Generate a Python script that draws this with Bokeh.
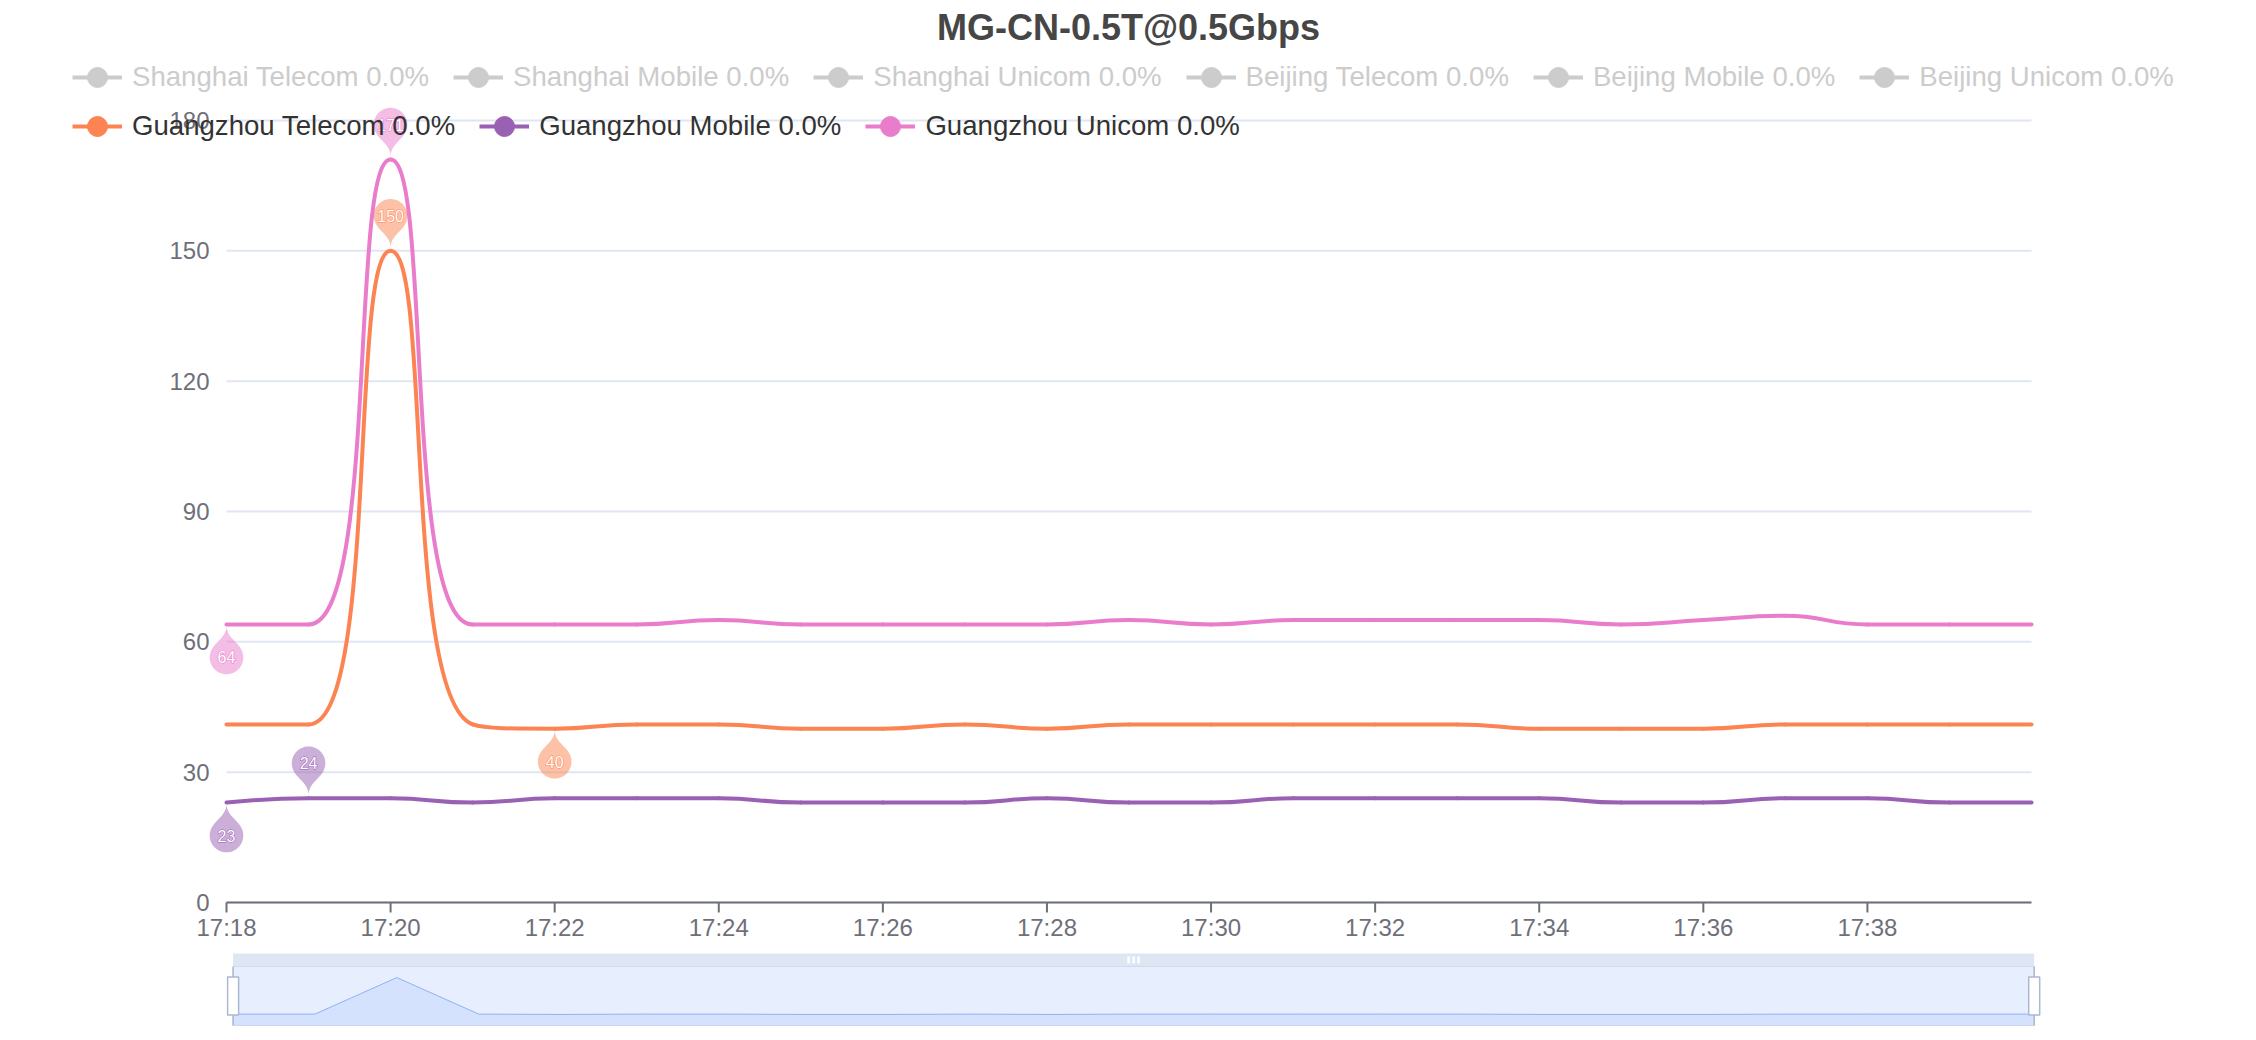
import math
import numpy as np
from bokeh.plotting import figure
from bokeh.layouts import column
from bokeh.models import Range1d, Legend, LegendItem, Label
from bokeh.core.properties import value
from bokeh.embed import file_html
from bokeh.resources import INLINE

# ---------------- data ----------------
chart_title = "MG-CN-0.5T@0.5Gbps"
times = ["17:18", "17:19", "17:20", "17:21", "17:22", "17:23", "17:24", "17:25",
         "17:26", "17:27", "17:28", "17:29", "17:30", "17:31", "17:32", "17:33",
         "17:34", "17:35", "17:36", "17:37", "17:38", "17:39", "17:40"]
gz_telecom = [41, 41, 150, 41, 40, 41, 41, 40, 40, 41, 40, 41, 41, 41, 41, 41, 40, 40, 40, 41, 41, 41, 41]
gz_mobile = [23, 24, 24, 23, 24, 24, 24, 23, 23, 23, 24, 23, 23, 24, 24, 24, 24, 23, 23, 24, 24, 23, 23]
gz_unicom = [64, 64, 171, 64, 64, 64, 65, 64, 64, 64, 64, 65, 64, 65, 65, 65, 65, 64, 65, 66, 64, 64, 64]

hidden_series = ["Shanghai Telecom", "Shanghai Mobile", "Shanghai Unicom",
                 "Beijing Telecom", "Beijing Mobile", "Beijing Unicom"]
visible_series = ["Guangzhou Telecom", "Guangzhou Mobile", "Guangzhou Unicom"]
loss_hidden = ["0.0%", "0.0%", "0.0%", "0.0%", "0.0%", "0.0%"]
loss_visible = ["0.0%", "0.0%", "0.0%"]
visible_values = [gz_telecom, gz_mobile, gz_unicom]
visible_colors = ["#fc8452", "#9a60b4", "#ea7ccc"]

y_ticks = [0, 30, 60, 90, 120, 150, 180]
x_tick_labels = ["17:18", "17:20", "17:22", "17:24", "17:26", "17:28",
                 "17:30", "17:32", "17:34", "17:36", "17:38"]

FONT = "Liberation Sans"
AXIS_C = "#6E7079"


def to_min(t):
    h, m = t.split(":")
    return int(h) * 60 + int(m)


xs = [to_min(t) for t in times]
x0, x1 = xs[0], xs[-1]
x_ticks = [to_min(t) for t in x_tick_labels]

# ---------------- layout (page pixels) ----------------
ORIGIN = 0                 # canvas top-left on the captured page
W = 2248
MAIN_H = 948
GL, GT, GB, GW = 226, 120, 902, 1805      # grid left / top / bottom / width on the page
ppx = GW / (x1 - x0)
ppy = (GB - GT) / (y_ticks[-1] - y_ticks[0])
CANVAS_BOTTOM = ORIGIN + MAIN_H

p = figure(width=W, height=MAIN_H, title=None,
           x_range=Range1d(x0 - (GL - ORIGIN) / ppx, x0 + (ORIGIN + W - GL) / ppx),
           y_range=Range1d(-(CANVAS_BOTTOM - GB) / ppy, (GB - ORIGIN) / ppy),
           x_axis_location=None, y_axis_location=None,
           output_backend="svg", toolbar_location=None,
           min_border_left=0, min_border_right=0,
           min_border_top=0, min_border_bottom=0)
p.outline_line_color = None
p.background_fill_color = "white"
p.border_fill_color = "white"
p.grid.visible = False

# grid lines, axis line, ticks, tick labels
p.segment(x0=[x0] * len(y_ticks), y0=y_ticks, x1=[x1] * len(y_ticks), y1=y_ticks,
          line_color="#E0E6F1", line_width=2)
p.segment(x0=[x0], y0=[y_ticks[0]], x1=[x1], y1=[y_ticks[0]],
          line_color=AXIS_C, line_width=2)
p.segment(x0=x_ticks, y0=[y_ticks[0]] * len(x_ticks), x1=x_ticks,
          y1=[y_ticks[0] - 10 / ppy] * len(x_ticks), line_color=AXIS_C, line_width=2)
p.text(x=x_ticks, y=[y_ticks[0]] * len(x_ticks), text=x_tick_labels,
       y_offset=25, text_align="center", text_baseline="middle",
       text_font=value(FONT), text_font_size="24px", text_color=AXIS_C)
p.text(x=[x0] * len(y_ticks), y=y_ticks, text=[str(t) for t in y_ticks],
       x_offset=-17, text_align="right", text_baseline="middle",
       text_font=value(FONT), text_font_size="24px", text_color=AXIS_C)


# ---------------- smooth lines (ECharts-like bezier control points) ----------------
def smooth_segments(xv, yv, smooth=0.5):
    P = [(x * ppx, y * ppy) for x, y in zip(xv, yv)]
    n = len(P)
    out = {k: [] for k in ("x0", "y0", "x1", "y1", "cx0", "cy0", "cx1", "cy1")}
    cp0 = P[0]
    for i in range(1, n):
        x, y = P[i]
        px_, py_ = P[i - 1]
        if i == n - 1:
            cp1 = (x, y)
            ncp0 = (x, y)
        else:
            nx, ny = P[i + 1]
            vx, vy = nx - px_, ny - py_
            l0 = math.hypot(x - px_, y - py_)
            l1 = math.hypot(nx - x, ny - y)
            r = l1 / (l0 + l1)
            ncx = x + vx * smooth * r
            ncy = y + vy * smooth * r
            ncx = max(min(ncx, max(nx, x)), min(nx, x))
            ncy = max(min(ncy, max(ny, y)), min(ny, y))
            vx, vy = ncx - x, ncy - y
            c1x = x - vx * l0 / l1
            c1y = y - vy * l0 / l1
            c1x = max(min(c1x, max(px_, x)), min(px_, x))
            c1y = max(min(c1y, max(py_, y)), min(py_, y))
            vx, vy = x - c1x, y - c1y
            ncp0 = (x + vx * l1 / l0, y + vy * l1 / l0)
            cp1 = (c1x, c1y)
        out["x0"].append(px_ / ppx); out["y0"].append(py_ / ppy)
        out["x1"].append(x / ppx); out["y1"].append(y / ppy)
        out["cx0"].append(cp0[0] / ppx); out["cy0"].append(cp0[1] / ppy)
        out["cx1"].append(cp1[0] / ppx); out["cy1"].append(cp1[1] / ppy)
        cp0 = ncp0
    return out


for vals, col in zip(visible_values, visible_colors):
    seg = smooth_segments(xs, vals)
    p.bezier(line_color=col, line_width=4, line_cap="round", **seg)


# ---------------- mark pins (max / min) ----------------
def pin_outline(s=56):
    w = s * 3 / 5
    h = max(w, s)
    r = w / 2
    dyc = r * r / (h - r)
    cy = -h + r + dyc
    a = math.asin(dyc / r)
    dx = math.cos(a) * r
    tx, ty = math.sin(a), math.cos(a)
    c1, c2 = r * 0.6, r * 0.7
    pts = [(r * math.cos(t), cy + r * math.sin(t))
           for t in np.linspace(math.pi - a, 2 * math.pi + a, 48)]

    def bez(q0, q1, q2, q3, m=16):
        res = []
        for t in np.linspace(0, 1, m):
            u = 1 - t
            res.append((u**3 * q0[0] + 3 * u * u * t * q1[0] + 3 * u * t * t * q2[0] + t**3 * q3[0],
                        u**3 * q0[1] + 3 * u * u * t * q1[1] + 3 * u * t * t * q2[1] + t**3 * q3[1]))
        return res

    pts += bez((dx, cy + dyc), (dx - tx * c1, cy + dyc + ty * c1), (0, -c2), (0, 0))[1:]
    pts += bez((0, 0), (0, -c2), (-dx + tx * c1, cy + dyc + ty * c1), (-dx, cy + dyc))[1:-1]
    return pts, -cy


PIN, PIN_CENTER = pin_outline(56)
GAP_MAX, GAP_MIN = 3, 1

for vals, col in zip(visible_values, visible_colors):
    arr = np.array(vals)
    pxs, pys, lx, ly, lt = [], [], [], [], []
    for idx, up in ((int(arr.argmax()), True), (int(arr.argmin()), False)):
        xv, yv = xs[idx], vals[idx]
        sgn = 1 if up else -1
        gap = GAP_MAX if up else GAP_MIN
        pxs.append([xv + qx / ppx for qx, qy in PIN])
        pys.append([yv + sgn * (gap - qy) / ppy for qx, qy in PIN])
        lx.append(xv)
        ly.append(yv + sgn * (gap + PIN_CENTER) / ppy)
        lt.append(str(yv))
    p.patches(xs=pxs, ys=pys, fill_color=col, fill_alpha=0.5, line_color=None)
    p.text(x=lx, y=ly, text=lt, text_color=col, text_outline_color=col,
           text_font=value(FONT), text_font_size="16px",
           text_align="center", text_baseline="middle")
    p.text(x=lx, y=ly, text=lt, text_color="white",
           text_font=value(FONT), text_font_size="16px",
           text_align="center", text_baseline="middle")


# ---------------- legends ----------------
def make_items(names, losses, colors, series_vals):
    items = []
    for name, loss, col, v in zip(names, losses, colors, series_vals):
        rl = p.line([x0], [v], line_color=col, line_width=4, visible=False)
        rd = p.scatter([x0], [v], marker="circle", size=21, fill_color=col,
                       line_color=col, visible=False)
        items.append(LegendItem(label=f"{name} {loss}", renderers=[rl, rd]))
    return items


leg_common = dict(orientation="horizontal", glyph_width=50, glyph_height=52,
                  label_standoff=10, spacing=24, padding=0, margin=0,
                  background_fill_alpha=0, border_line_alpha=0,
                  inactive_fill_alpha=0, click_policy="none",
                  label_text_font=FONT, label_text_font_size="27.6px")

leg1 = Legend(items=make_items(hidden_series, loss_hidden, ["#cccccc"] * 6, [0] * 6),
              location=(72 - ORIGIN, CANVAS_BOTTOM - 103),
              label_text_color="#cccccc", **leg_common)
leg2 = Legend(items=make_items(visible_series, loss_visible, visible_colors,
                               [v[0] for v in visible_values]),
              location=(72 - ORIGIN, CANVAS_BOTTOM - 152),
              label_text_color="#333333", **leg_common)
p.add_layout(leg1, "center")
p.add_layout(leg2, "center")

p.add_layout(Label(x=1128 - ORIGIN, y=CANVAS_BOTTOM - 27,
                   x_units="screen", y_units="screen", text=chart_title,
                   text_font=FONT, text_font_size="36px", text_font_style="bold",
                   text_color="#464646", text_align="center", text_baseline="middle"))

# ---------------- data-zoom slider ----------------
SH, SFT, SFH = 88, 4, 74
s_left_px, s_right_px = 232.6, 2033.7
ppm_s = (s_right_px - s_left_px) / (x1 - x0)
sx_start = x0 - (s_left_px - ORIGIN) / ppm_s
sx_end = x1 + (ORIGIN + W - s_right_px) / ppm_s

ext = max(gz_telecom) - min(gz_telecom)
lo = min(gz_telecom) - 0.3 * ext
hi = max(gz_telecom) + 0.3 * ext
u = (hi - lo) / 59.0
sy_start = lo - 1 * u
sy_end = hi + 14 * u

s = figure(width=W, height=SH, title=None, x_range=Range1d(sx_start, sx_end),
           y_range=Range1d(sy_start, sy_end), x_axis_location=None, y_axis_location=None,
           output_backend="svg", toolbar_location=None,
           min_border_left=0, min_border_right=0,
           min_border_top=SFT, min_border_bottom=SH - SFT - SFH)
s.outline_line_color = None
s.grid.visible = False

s.quad(left=[x0], right=[x1], bottom=[lo], top=[hi],
       fill_color="#87AFFF", fill_alpha=0.2, line_color="#D2DBEE", line_width=1)
s.varea(x=xs, y1=lo, y2=gz_telecom, fill_color="#8FB0F7", fill_alpha=0.2)
s.line(xs, gz_telecom, line_color="#8FB0F7", line_width=1)
s.quad(left=[x0], right=[x1], bottom=[hi], top=[hi + 13 * u],
       fill_color="#D2DBEE", fill_alpha=0.7, line_color=None)
mid = (x0 + x1) / 2
s.rect(x=[mid - 5 / ppm_s, mid, mid + 5 / ppm_s], y=[hi + 6.5 * u] * 3,
       width=2.5, height=7, width_units="screen", height_units="screen",
       fill_color="white", line_color=None)
s.segment(x0=[x0, x1], y0=[lo, lo], x1=[x0, x1], y1=[hi, hi],
          line_color="#ACB8D1", line_width=1.5)
s.rect(x=[x0, x1], y=[(lo + hi) / 2] * 2, width=11, height=38,
       width_units="screen", height_units="screen",
       fill_color="white", line_color="#ACB8D1", line_width=1.5)

layout = column(p, s, spacing=0)
open("out.html", "w").write(file_html(layout, INLINE))
